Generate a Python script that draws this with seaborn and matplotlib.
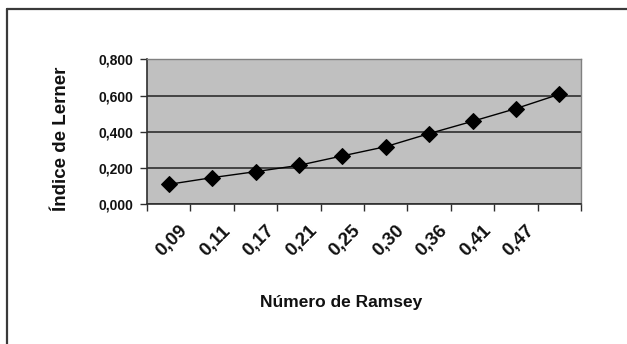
import numpy as np
import pandas as pd
import matplotlib
matplotlib.use("Agg")
import matplotlib.pyplot as plt
from matplotlib.lines import Line2D
import seaborn as sns

# ---- data ----
ramsey_labels = ["0,09", "0,11", "0,17", "0,21", "0,25", "0,30", "0,36", "0,41", "0,47"]
lerner_values = [0.110, 0.147, 0.180, 0.215, 0.267, 0.318, 0.390, 0.458, 0.528, 0.607]
y_ticks = [0.0, 0.2, 0.4, 0.6, 0.8]
y_tick_labels = ["0,000", "0,200", "0,400", "0,600", "0,800"]

sns.set_theme(style="white")
plt.rcParams["font.family"] = ["Liberation Sans", "DejaVu Sans"]

df = pd.DataFrame({"pos": np.arange(len(lerner_values)), "lerner": lerner_values})

fig = plt.figure(figsize=(6.27, 3.44), dpi=100)
ax = fig.add_axes([147 / 627, 1 - 204.3 / 344, (581 - 147) / 627, (204.3 - 59.3) / 344])
ax.set_facecolor("#c0c0c0")

sns.lineplot(data=df, x="pos", y="lerner", ax=ax, color="black", linewidth=1.0,
             marker="D", markersize=7.8, markerfacecolor="black",
             markeredgecolor="black", zorder=5)

ax.set_xlim(-0.5, len(lerner_values) - 0.5)
ax.set_ylim(0, 0.8)

# gridlines
ax.set_yticks(y_ticks)
ax.set_yticklabels(y_tick_labels, fontsize=10, fontweight="bold", color="#111111")
ax.yaxis.grid(True, color="#2e2e2e", linewidth=1.2)
ax.xaxis.grid(False)
ax.set_axisbelow(True)

# category boundaries as ticks, labels at inner boundaries
bounds = np.arange(-0.5, len(lerner_values), 1.0)
ax.set_xticks(bounds)
ax.set_xticklabels([""] + ramsey_labels + [""], rotation=45, ha="right",
                   va="top", fontsize=13.5, fontweight="bold", color="#111111")

ax.tick_params(axis="both", which="major", direction="out", length=5,
               width=1.0, color="#2e2e2e", bottom=True, left=True)
ax.tick_params(axis="y", pad=5)
ax.tick_params(axis="x", pad=8)

for side in ["top", "right"]:
    ax.spines[side].set_color("#808080")
    ax.spines[side].set_linewidth(1.0)
for side in ["bottom", "left"]:
    ax.spines[side].set_color("#2e2e2e")
    ax.spines[side].set_linewidth(1.2)

ax.set_xlabel("")
ax.set_ylabel("")

fig.text(341 / 627, 1 - 303 / 344, "Número de Ramsey", ha="center", va="center",
         fontsize=12.5, fontweight="bold", color="#111111")
fig.text(62 / 627, 1 - 138.5 / 344, "Índice de Lerner", ha="center", va="center",
         rotation=90, fontsize=13.5, fontweight="bold", color="#111111")

# outer frame (top and left edges visible)
fig.add_artist(Line2D([7 / 627, 1.0], [1 - 9 / 344, 1 - 9 / 344],
                      transform=fig.transFigure, color="#3a3a3a", linewidth=1.6))
fig.add_artist(Line2D([7 / 627, 7 / 627], [0.0, 1 - 9 / 344],
                      transform=fig.transFigure, color="#3a3a3a", linewidth=1.6))

fig.savefig("out.png", dpi=100)
